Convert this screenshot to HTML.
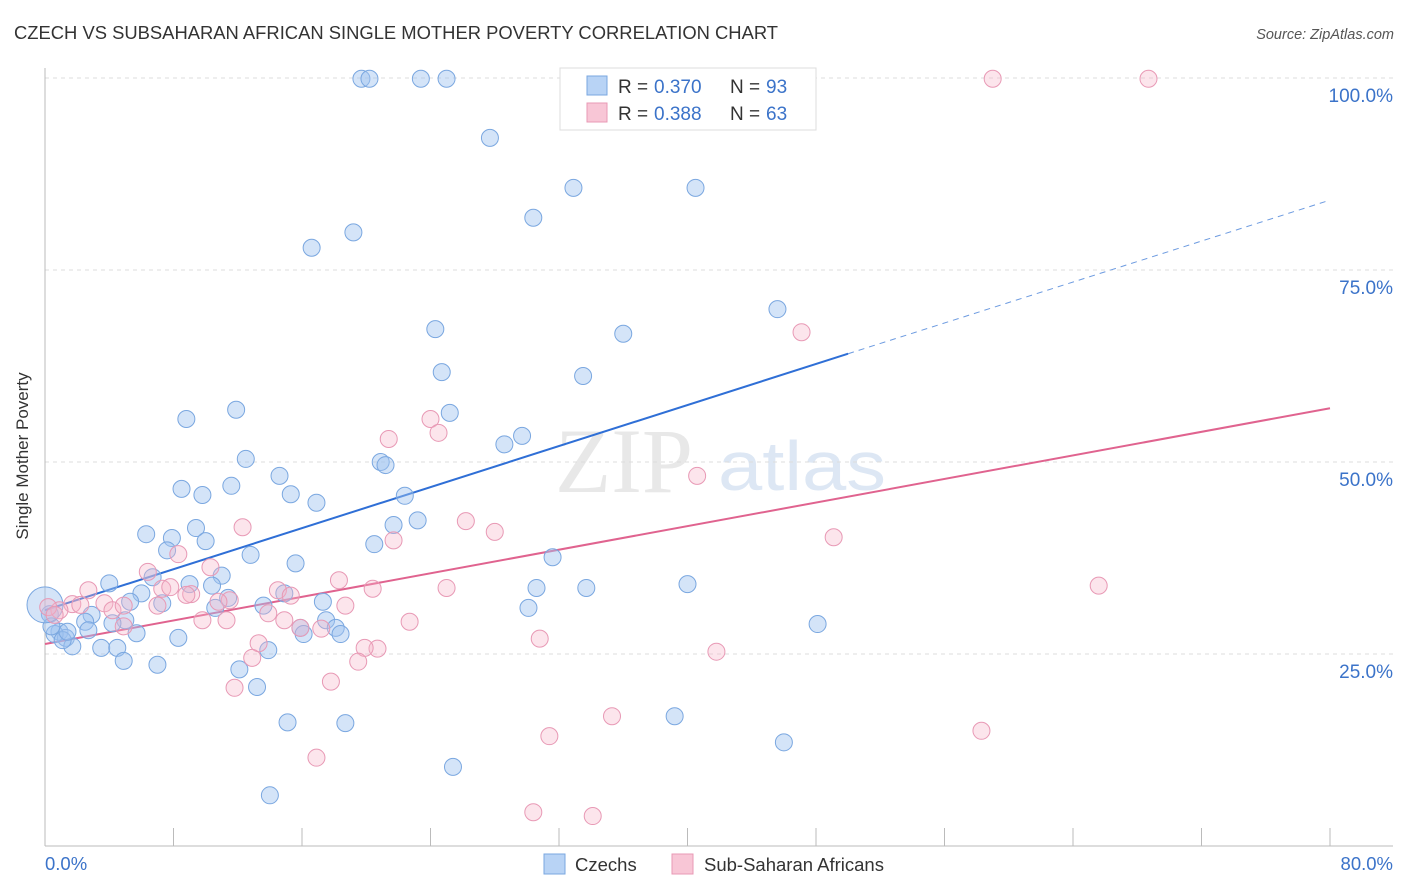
<!DOCTYPE html>
<html><head><meta charset="utf-8"><style>
body{margin:0;background:#fff;font-family:"Liberation Sans",sans-serif;}
svg{display:block}
</style></head><body>
<svg width="1406" height="892" id="chart">
<text x="14" y="39" font-size="18.4" fill="#333">CZECH VS SUBSAHARAN AFRICAN SINGLE MOTHER POVERTY CORRELATION CHART</text>
<text x="1394" y="39" font-size="14.5" fill="#555" font-style="italic" text-anchor="end">Source: ZipAtlas.com</text>
<g>
<text x="555" y="492" font-size="92" font-family="Liberation Serif,serif" fill="#e8e8e8">ZIP</text>
<text x="718" y="490" font-size="70" fill="#dde7f4" textLength="168" lengthAdjust="spacingAndGlyphs">atlas</text>
</g>
<g id="grid"></g>
<g id="axes"></g>
<g id="lines"></g>
<g id="pts"></g>
<text x="28" y="456" font-size="17" fill="#333" text-anchor="middle" transform="rotate(-90 28 456)">Single Mother Poverty</text>
<text x="45" y="870" font-size="18.5" fill="#3b73c9">0.0%</text>
<text x="1393" y="870" font-size="18.5" fill="#3b73c9" text-anchor="end">80.0%</text>
<g>
<rect x="560" y="68" width="256" height="62" fill="#fff" stroke="#ddd"/>
<rect x="587" y="76" width="20" height="19" fill="#b8d3f5" stroke="#7aa7e0"/>
<rect x="587" y="103" width="20" height="19" fill="#f8c6d6" stroke="#e899b5"/>
<text y="93" font-size="19" fill="#333"><tspan x="618">R =</tspan><tspan x="654" fill="#3b73c9">0.370</tspan><tspan x="730">N =</tspan><tspan x="766" fill="#3b73c9">93</tspan></text>
<text y="120" font-size="19" fill="#333"><tspan x="618">R =</tspan><tspan x="654" fill="#3b73c9">0.388</tspan><tspan x="730">N =</tspan><tspan x="766" fill="#3b73c9">63</tspan></text>
</g>
<g>
<rect x="544" y="854" width="21" height="20" fill="#b8d3f5" stroke="#7aa7e0"/>
<text x="575" y="871" font-size="18.5" fill="#333">Czechs</text>
<rect x="672" y="854" width="21" height="20" fill="#f8c6d6" stroke="#e899b5"/>
<text x="704" y="871" font-size="18.5" fill="#333">Sub-Saharan Africans</text>
</g>
</svg>
<script>
const yTicks=[25,50,75,100];
const yTickLabels=["25.0%","50.0%","75.0%","100.0%"];
const xTicks=[0,8,16,24,32,40,48,56,64,72,80];
const czechX=[19.7,20.2,23.4,25.0,27.7,32.9,40.5,30.4,16.6,19.2,45.6,24.3,36.0,24.7,33.5,11.9,8.8,25.2,29.7,28.6,12.5,20.9,21.2,14.6,8.5,11.6,9.8,15.3,22.4,16.9,23.2,21.7,6.3,7.9,9.4,20.5,10.0,7.6,12.8,31.6,15.6,11.0,6.7,4.0,9.0,10.4,40.0,30.6,33.7,6.0,5.3,11.4,7.3,14.9,13.6,17.3,10.6,30.1,5.0,2.9,2.5,4.2,17.5,2.7,5.7,15.9,16.1,18.1,18.4,8.3,0.9,1.3,0.6,1.7,3.5,4.5,48.1,13.9,4.9,7.0,12.1,13.2,15.1,18.7,39.2,46.0,25.4,14.0,0.3,0.4,1.1,1.4,0];
const czechY=[99.9,99.9,99.9,99.9,92.2,85.7,85.7,81.8,77.9,79.9,69.9,67.3,66.7,61.7,61.2,56.8,55.6,56.4,53.4,52.3,50.4,50.0,49.6,48.2,46.5,46.9,45.7,45.8,45.6,44.7,42.4,41.8,40.6,40.1,41.4,39.3,39.7,38.5,37.9,37.6,36.8,35.2,35.0,34.2,34.1,33.9,34.1,33.6,33.6,32.9,31.8,32.3,31.6,32.9,31.3,31.8,31.0,31.0,29.4,30.1,29.2,29.0,29.4,28.1,27.7,28.4,27.6,28.4,27.6,27.1,27.9,27.1,27.6,26.0,25.8,25.8,28.9,25.5,24.1,23.6,23.0,20.7,16.1,16.0,16.9,13.5,10.3,6.6,30.2,28.6,26.8,27.9,31.4];
const ssaX=[59.0,68.7,47.1,24.0,24.5,21.4,40.6,26.2,28.0,49.1,12.3,21.7,8.3,10.3,6.4,18.3,20.4,25.0,65.6,2.7,7.3,7.8,14.5,9.1,15.3,11.5,1.7,0.9,2.2,3.7,4.2,4.9,7.0,8.8,10.8,18.7,13.9,11.3,9.8,4.9,14.9,22.7,17.2,15.9,30.8,13.3,20.7,19.9,12.9,19.5,41.8,17.8,11.8,16.9,35.3,31.4,58.3,30.4,34.1,0.2,0.6];
const ssaY=[99.9,99.9,66.9,55.6,53.8,53.0,48.2,42.3,40.9,40.2,41.5,39.8,38.0,36.3,35.7,34.6,33.5,33.6,33.9,33.3,33.5,33.7,33.3,32.8,32.6,32.0,31.5,30.7,31.4,31.6,30.7,31.3,31.3,32.7,31.8,31.3,30.3,29.4,29.4,28.6,29.4,29.2,28.3,28.4,27.0,26.4,25.7,25.8,24.5,24.0,25.3,21.4,20.6,11.5,16.9,14.3,15.0,4.4,3.9,31.1,30.1];
const czechLine=[[0,30.7],[50,64.1],[80,84.1]];
const ssaLine=[[0,26.3],[80,57.0]];
const X=v=>45+v*(1330-45)/80;
const Y=v=>846-v*7.68;
const NS="http://www.w3.org/2000/svg";
function mk(tag,attrs,parent){const e=document.createElementNS(NS,tag);for(const k in attrs)e.setAttribute(k,attrs[k]);parent.appendChild(e);return e;}
const grid=document.getElementById('grid'),axes=document.getElementById('axes'),lines=document.getElementById('lines'),pts=document.getElementById('pts');
yTicks.forEach((t,i)=>{
 const l=mk('line',{x1:45,x2:1393,y1:Y(t),y2:Y(t),stroke:'#ddd','stroke-dasharray':'4 4'},grid);
 
 
 const tx=mk('text',{x:1393,y:Y(t)+24,'font-size':19,fill:'#3b73c9','text-anchor':'end'},axes);
 tx.textContent=yTickLabels[i];
 
 
});
const ya=mk('line',{x1:45,x2:45,y1:68,y2:846,stroke:'#bbb'},axes);


const xa=mk('line',{x1:45,x2:1393,y1:846,y2:846,stroke:'#bbb'},axes);


xTicks.forEach(t=>{
 const l=mk('line',{x1:X(t),x2:X(t),y1:828,y2:846,stroke:'#bbb'},axes);
 
 
});
function dot(x,y,fill,stroke,r){
 return mk('circle',{cx:X(x),cy:Y(y),r:r,fill:fill,stroke:stroke,'stroke-width':1},pts);
}
czechX.forEach((x,i)=>{
 const c=dot(x,czechY[i],'rgba(160,196,240,0.45)','#7aa7e0',i===czechX.length-1?18:8.5);
 
 
});
ssaX.forEach((x,i)=>{
 const c=dot(x,ssaY[i],'rgba(245,180,200,0.35)','#e899b5',8.5);
 
 
});
const b1=mk('line',{x1:X(czechLine[0][0]),y1:Y(czechLine[0][1]),x2:X(czechLine[1][0]),y2:Y(czechLine[1][1]),stroke:'#2f6fd6','stroke-width':2},lines);


const b2=mk('line',{x1:X(czechLine[1][0]),y1:Y(czechLine[1][1]),x2:X(czechLine[2][0]),y2:Y(czechLine[2][1]),stroke:'#6d9be0','stroke-width':1,'stroke-dasharray':'6 5'},lines);


const p1=mk('line',{x1:X(ssaLine[0][0]),y1:Y(ssaLine[0][1]),x2:X(ssaLine[1][0]),y2:Y(ssaLine[1][1]),stroke:'#e0638f','stroke-width':2},lines);


</script>
</body></html>
